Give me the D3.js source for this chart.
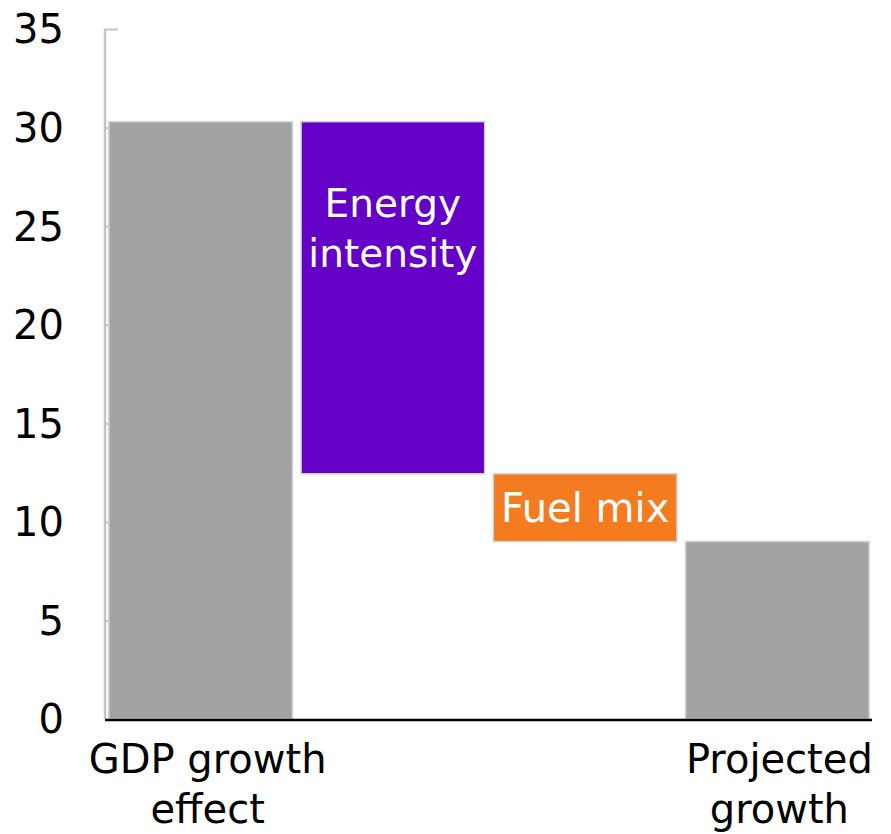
<!DOCTYPE html>
<html><head><meta charset="utf-8">
<script src="https://cdn.jsdelivr.net/npm/d3@7"></script>
<style>html,body{margin:0;padding:0;background:#fff;}svg{display:block;}</style>
</head><body>
<svg id="c" width="891" height="834"></svg>
<script>
const categories = ["GDP growth effect", "Energy intensity", "Fuel mix", "Projected growth"];
const barLow  = [0, 12.44, 9.0, 0];
const barHigh = [30.3, 30.3, 12.44, 9.0];
const barColors = ["#a3a3a3", "#6500c6", "#f47b20", "#a3a3a3"];
const inBarLabels = [[], ["Energy", "intensity"], ["Fuel mix"], []];
const axisLabels = [["GDP growth", "effect"], [], [], ["Projected", "growth"]];
const yTicks = [0, 5, 10, 15, 20, 25, 30, 35];

const svg = d3.select("#c");
const font = "'DejaVu Sans', sans-serif";
const x = d3.scaleBand().domain(categories).range([105, 873]).paddingInner(0.045).paddingOuter(0.02);
const y = d3.scaleLinear().domain([0, 35]).range([719, 29]);

// y axis
const ya = svg.append("g").attr("transform", "translate(105,0)")
  .call(d3.axisRight(y).tickValues(yTicks).tickSize(13).tickFormat(""));
ya.select(".domain").attr("stroke", "#c4c4c4").attr("stroke-width", 2.5).attr("d", `M0,${y(35)}V${y(0)}`);
ya.selectAll(".tick line").attr("stroke", "#c4c4c4").attr("stroke-width", 2);
svg.append("g").selectAll("text").data(yTicks).join("text")
  .attr("x", 64).attr("y", d => y(d)).attr("dy", "0.36em")
  .attr("text-anchor", "end").attr("font-family", font).attr("font-size", 40).attr("fill", "#000")
  .text(d => d);

// bars
svg.append("g").selectAll("rect").data(categories).join("rect")
  .attr("x", d => x(d)).attr("width", x.bandwidth())
  .attr("y", (d, i) => y(barHigh[i])).attr("height", (d, i) => y(barLow[i]) - y(barHigh[i]))
  .attr("fill", (d, i) => barColors[i]).attr("stroke", "#d2d2d2").attr("stroke-width", 1.5);

// in-bar labels
categories.forEach((c, i) => {
  const lines = inBarLabels[i];
  if (!lines.length) return;
  const cx = x(c) + x.bandwidth() / 2;
  const fs = lines.length > 1 ? 39 : 40;
  const lh = 50;
  const cy = (y(barLow[i]) + y(barHigh[i])) / 2;
  const mid = lines.length > 1 ? 228 - cy : 0;
  lines.forEach((t, k) => {
    svg.append("text").attr("x", cx)
      .attr("y", cy + mid + (k - (lines.length - 1) / 2) * lh).attr("dy", "0.36em")
      .attr("text-anchor", "middle").attr("font-family", font).attr("font-size", fs).attr("fill", "#fff")
      .text(t);
  });
});

// x axis
svg.append("line").attr("x1", 105).attr("x2", 872).attr("y1", y(0) + 1).attr("y2", y(0) + 1)
  .attr("stroke", "#000").attr("stroke-width", 2.5);
categories.forEach((c, i) => {
  const cx = x(c) + x.bandwidth() / 2;
  axisLabels[i].forEach((t, k) => {
    svg.append("text").attr("x", cx + (i === 0 ? 7 : 2)).attr("y", 773 + k * 50)
      .attr("text-anchor", "middle").attr("font-family", font).attr("font-size", 40).attr("fill", "#000")
      .text(t);
  });
});
</script>
</body></html>
